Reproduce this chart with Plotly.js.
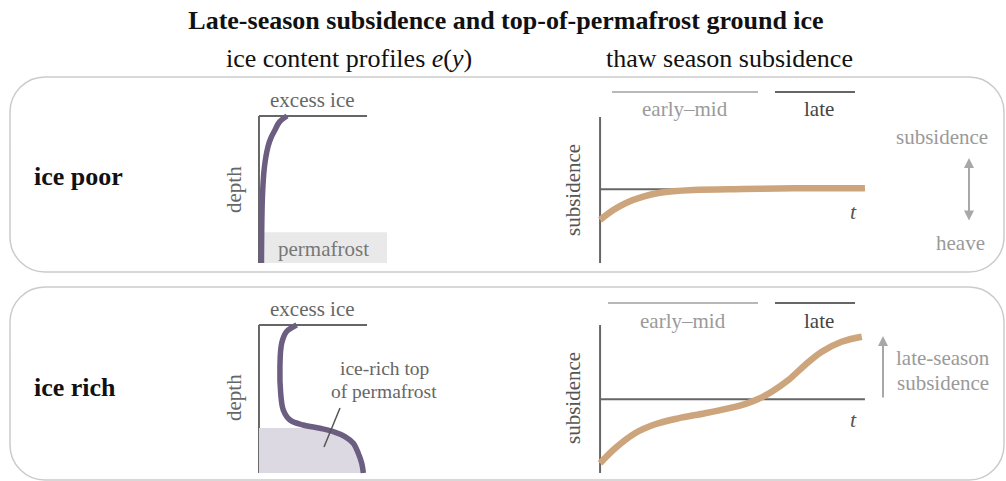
<!DOCTYPE html>
<html><head><meta charset="utf-8">
<script src="https://cdn.plot.ly/plotly-3.0.1.min.js"></script>
<style>html,body{margin:0;padding:0;background:#fff}</style>
</head><body><div id="chart" style="width:1006px;height:481px"></div>
<script>
const W = 1006, H = 481;

// ---------------- data (schematic values) ----------------
// ice content profile e(y): depth (0 = top, 1 = bottom of profile) vs ice content
const poorDepth = [0, 0.04, 0.095, 0.15, 0.21, 0.35, 0.55, 1.0];
const poorIce   = [0.26, 0.19, 0.148, 0.11, 0.083, 0.05, 0.032, 0.023];
const poorPermafrostTop = 0.79;

const richDepth = [0, 0.045, 0.124, 0.282, 0.461, 0.574, 0.642, 0.676, 0.698, 0.72, 0.754, 0.799, 0.867, 0.934, 1.0];
const richIce   = [0.349, 0.256, 0.21, 0.194, 0.201, 0.225, 0.287, 0.41, 0.565, 0.688, 0.796, 0.873, 0.919, 0.951, 0.966];
const richPermafrostTop = 0.696;

// thaw-season subsidence (positive = subsidence, negative = heave) vs season fraction t
const poorT    = [0, 0.05, 0.1, 0.163, 0.226, 0.352, 0.541, 0.73, 1.0];
const poorSubs = [-0.42, -0.285, -0.184, -0.101, -0.047, -0.01, 0.004, 0.014, 0.014];

const richT    = [0, 0.057, 0.132, 0.208, 0.295, 0.396, 0.484, 0.547, 0.597, 0.648, 0.711, 0.774, 0.837, 0.912, 0.988];
const richSubs = [-0.865, -0.662, -0.459, -0.338, -0.257, -0.189, -0.122, -0.064, 0.004, 0.103, 0.261, 0.464, 0.643, 0.778, 0.846];

const rowLabels = ["ice poor", "ice rich"];
const seasonLabels = ["early\u2013mid", "late"];

// ---------------- helpers ----------------
const px = x => x / W;
const py = y => 1 - y / H;
const FONT = "Liberation Serif, Times New Roman, serif";
const PURPLE = "#6b5e80", TAN = "#cda57c", AX = "#666";

function interpAt(depths, vals, d) {
  for (let i = 1; i < depths.length; i++) {
    if (depths[i] >= d) {
      const f = (d - depths[i-1]) / (depths[i] - depths[i-1]);
      return vals[i-1] + f * (vals[i] - vals[i-1]);
    }
  }
  return vals[vals.length - 1];
}
// permafrost fill under ice-rich curve
const fillD = [richPermafrostTop], fillE = [interpAt(richDepth, richIce, richPermafrostTop)];
richDepth.forEach((d, i) => { if (d > richPermafrostTop) { fillD.push(d); fillE.push(richIce[i]); } });

function rrect(x0, y0, x1, y1, r) {
  const k = 0.5523 * r;
  const P = (x, y) => px(x) + "," + py(y);
  return "M" + P(x0 + r, y0) + " L" + P(x1 - r, y0) +
    " C" + P(x1 - r + k, y0) + " " + P(x1, y0 + r - k) + " " + P(x1, y0 + r) +
    " L" + P(x1, y1 - r) +
    " C" + P(x1, y1 - r + k) + " " + P(x1 - r + k, y1) + " " + P(x1 - r, y1) +
    " L" + P(x0 + r, y1) +
    " C" + P(x0 + r - k, y1) + " " + P(x0, y1 - r + k) + " " + P(x0, y1 - r) +
    " L" + P(x0, y0 + r) +
    " C" + P(x0, y0 + r - k) + " " + P(x0 + r - k, y0) + " " + P(x0 + r, y0) + " Z";
}

// ---------------- traces ----------------
const traces = [
  {x: poorIce, y: poorDepth, xaxis: "x", yaxis: "y", mode: "lines",
   line: {color: PURPLE, width: 5.5, shape: "spline", smoothing: 1}, hoverinfo: "skip"},
  {x: fillE, y: fillD, xaxis: "x2", yaxis: "y2", mode: "lines", fill: "tozerox",
   fillcolor: "#dcd9e3", line: {width: 0, color: "rgba(0,0,0,0)", shape: "spline"}, hoverinfo: "skip"},
  {x: richIce, y: richDepth, xaxis: "x2", yaxis: "y2", mode: "lines",
   line: {color: PURPLE, width: 5.5, shape: "spline", smoothing: 1}, hoverinfo: "skip"},
  {x: poorT, y: poorSubs, xaxis: "x3", yaxis: "y3", mode: "lines",
   line: {color: TAN, width: 6.5, shape: "spline", smoothing: 1}, hoverinfo: "skip"},
  {x: richT, y: richSubs, xaxis: "x4", yaxis: "y4", mode: "lines",
   line: {color: TAN, width: 6.5, shape: "spline", smoothing: 1}, hoverinfo: "skip"}
];

const hid = {visible: false, fixedrange: true};
const layout = {
  width: W, height: H, margin: {l: 0, r: 0, t: 0, b: 0},
  paper_bgcolor: "#fff", plot_bgcolor: "rgba(0,0,0,0)", showlegend: false,
  font: {family: FONT, color: "#222"},
  title: {text: "<b>Late-season subsidence and top-of-permafrost ground ice</b>",
          x: 506 / W, xanchor: "center", xref: "paper", y: py(20), yanchor: "middle", yref: "paper",
          font: {family: FONT, size: 26, color: "#111"}},
  xaxis:  Object.assign({domain: [px(250), px(395)], range: [-0.083, 1.259], anchor: "y"}, hid),
  yaxis:  Object.assign({domain: [py(268), py(105)], range: [1.034, -0.075], anchor: "x"}, hid),
  xaxis2: Object.assign({domain: [px(250), px(395)], range: [-0.083, 1.259], anchor: "y2"}, hid),
  yaxis2: Object.assign({domain: [py(478), py(314)], range: [1.034, -0.074], anchor: "x2"}, hid),
  xaxis3: Object.assign({domain: [px(590), px(875)], range: [-0.038, 1.038], anchor: "y3"}, hid),
  yaxis3: Object.assign({domain: [py(268), py(110)], range: [-1.078, 1.086], anchor: "x3"}, hid),
  xaxis4: Object.assign({domain: [px(590), px(875)], range: [-0.038, 1.038], anchor: "y4"}, hid),
  yaxis4: Object.assign({domain: [py(478), py(318)], range: [-1.064, 1.099], anchor: "x4"}, hid),
  shapes: [
    // panels
    {type: "path", xref: "paper", yref: "paper", path: rrect(10, 77, 1004, 272, 35),
     line: {color: "#cbcbcb", width: 1.5}, layer: "below"},
    {type: "path", xref: "paper", yref: "paper", path: rrect(10, 287, 1004, 480, 35),
     line: {color: "#cbcbcb", width: 1.5}, layer: "below"},
    // ice poor profile
    {type: "rect", xref: "x", yref: "y", x0: 0.04, x1: 1.185, y0: poorPermafrostTop, y1: 1.0,
     fillcolor: "#e9e9e9", line: {width: 0}, layer: "below"},
    {type: "line", xref: "x", yref: "y", x0: 0, x1: 0, y0: 0, y1: 1, line: {color: AX, width: 2}, layer: "below"},
    {type: "line", xref: "x", yref: "y", x0: 0, x1: 1, y0: 0, y1: 0, line: {color: AX, width: 2}, layer: "below"},
    // ice rich profile
    {type: "line", xref: "x2", yref: "y2", x0: 0, x1: 0, y0: 0, y1: 1, line: {color: AX, width: 2}, layer: "below"},
    {type: "line", xref: "x2", yref: "y2", x0: 0, x1: 1, y0: 0, y1: 0, line: {color: AX, width: 2}, layer: "below"},
    {type: "line", xref: "paper", yref: "paper", x0: px(340), x1: px(324), y0: py(408), y1: py(447),
     line: {color: "#555", width: 1.5}},
    // subsidence poor
    {type: "line", xref: "x3", yref: "y3", x0: 0, x1: 0, y0: -1.01, y1: 0.99, line: {color: AX, width: 2}, layer: "below"},
    {type: "line", xref: "x3", yref: "y3", x0: 0, x1: 1, y0: 0, y1: 0, line: {color: AX, width: 2}, layer: "below"},
    {type: "line", xref: "paper", yref: "paper", x0: px(612), x1: px(758), y0: py(92), y1: py(92), line: {color: "#b8b8b8", width: 2}},
    {type: "line", xref: "paper", yref: "paper", x0: px(775), x1: px(855), y0: py(92), y1: py(92), line: {color: "#666", width: 2}},
    // subsidence rich
    {type: "line", xref: "x4", yref: "y4", x0: 0, x1: 0, y0: -0.996, y1: 1.004, line: {color: AX, width: 2}, layer: "below"},
    {type: "line", xref: "x4", yref: "y4", x0: 0, x1: 1, y0: 0, y1: 0, line: {color: AX, width: 2}, layer: "below"},
    {type: "line", xref: "paper", yref: "paper", x0: px(608), x1: px(758), y0: py(303), y1: py(303), line: {color: "#b8b8b8", width: 2}},
    {type: "line", xref: "paper", yref: "paper", x0: px(775), x1: px(855), y0: py(303), y1: py(303), line: {color: "#666", width: 2}}
  ],
  annotations: []
};

function txt(text, x, y, size, color, opts) {
  return Object.assign({text: text, x: px(x), y: py(y), xref: "paper", yref: "paper",
    showarrow: false, xanchor: "center", yanchor: "middle", borderpad: 0,
    font: {family: FONT, size: size, color: color}}, opts || {});
}
const A = layout.annotations;
const LBL = 21;
A.push(txt("ice content profiles <i>e</i>(<i>y</i>)", 349, 58, 26, "#111"));
A.push(txt("thaw season subsidence", 729, 58, 26, "#111"));
A.push(txt("<b>" + rowLabels[0] + "</b>", 33, 176, 26, "#111", {xanchor: "left"}));
A.push(txt("<b>" + rowLabels[1] + "</b>", 33, 387, 26, "#111", {xanchor: "left"}));
// profiles
A.push(txt("excess ice", 312, 100, LBL, "#666"));
A.push(txt("excess ice", 312, 309, LBL, "#666"));
A.push(txt("depth", 234, 190, LBL, "#666", {textangle: -90}));
A.push(txt("depth", 234, 398, LBL, "#666", {textangle: -90}));
A.push(txt("permafrost", 323, 249, LBL, "#777"));
A.push(txt("ice-rich top", 384, 368.5, 19.5, "#666"));
A.push(txt("of permafrost", 384, 391.5, 19.5, "#666"));
// subsidence panels
A.push(txt("subsidence", 573, 190, LBL, "#555", {textangle: -90}));
A.push(txt("subsidence", 573, 398, LBL, "#555", {textangle: -90}));
A.push(txt(seasonLabels[0], 685, 109, LBL, "#9a9a9a"));
A.push(txt(seasonLabels[1], 819, 109, LBL, "#444"));
A.push(txt(seasonLabels[0], 683, 321, LBL, "#9a9a9a"));
A.push(txt(seasonLabels[1], 819, 321, LBL, "#444"));
A.push(txt("<i>t</i>", 853, 211, 22, "#555"));
A.push(txt("<i>t</i>", 853, 419, 22, "#555"));
A.push(txt("subsidence", 989, 137, LBL, "#9a9a9a", {xanchor: "right"}));
A.push(txt("heave", 986, 243, LBL, "#9a9a9a", {xanchor: "right"}));
A.push(txt("late-season", 943, 358, LBL, "#9a9a9a"));
A.push(txt("subsidence", 943, 383, LBL, "#9a9a9a"));
A.push({x: px(969), y: py(158), xref: "paper", yref: "paper", ax: 0, ay: 64, text: "",
        showarrow: true, arrowhead: 2, startarrowhead: 2, arrowside: "end+start",
        arrowcolor: "#a8a8a8", arrowwidth: 2, arrowsize: 1, startarrowsize: 1, standoff: 0, startstandoff: 0});
A.push({x: px(883), y: py(336), xref: "paper", yref: "paper", ax: 0, ay: 63, text: "",
        showarrow: true, arrowhead: 2, arrowside: "end",
        arrowcolor: "#a8a8a8", arrowwidth: 2, arrowsize: 1, standoff: 0});

Plotly.newPlot("chart", traces, layout, {staticPlot: true, displayModeBar: false});
</script></body></html>
